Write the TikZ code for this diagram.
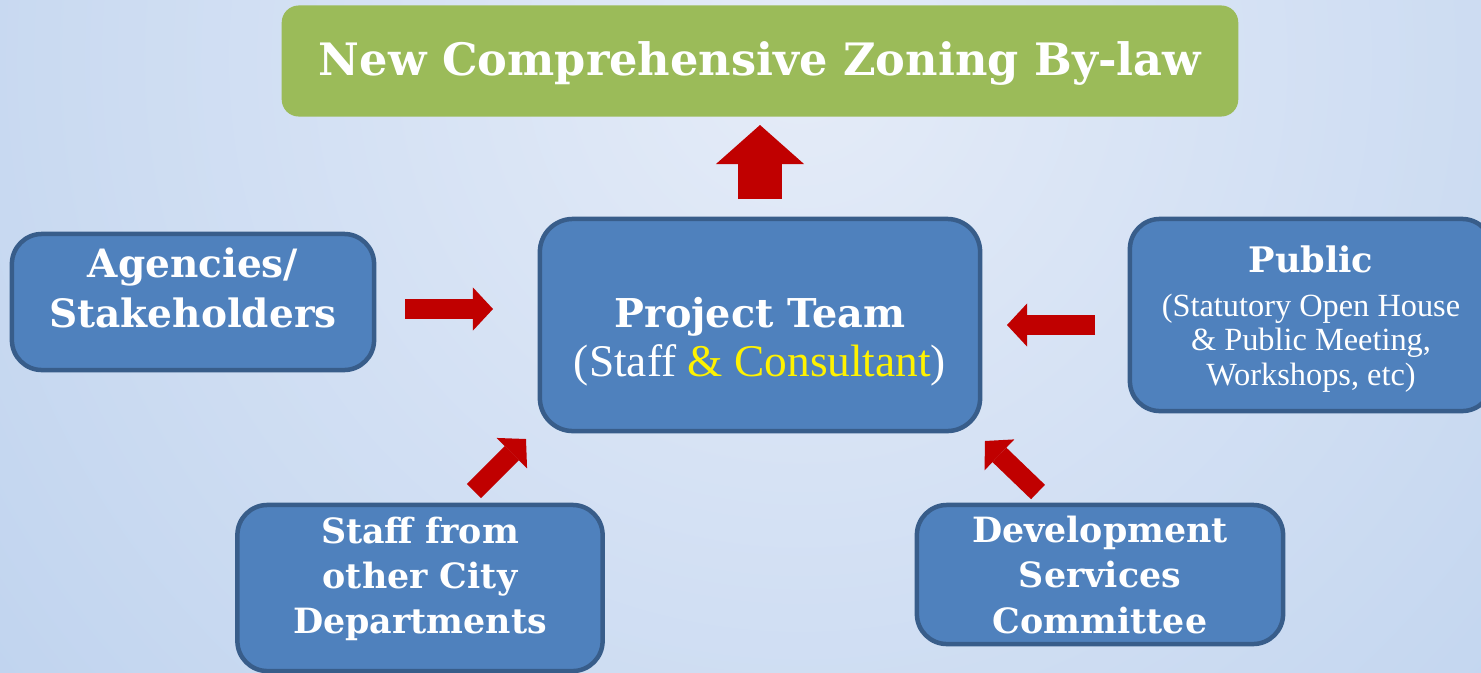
\documentclass[tikz,border=0pt]{standalone}
\usepackage{fontspec}
\setmainfont{DejaVu Serif}
\newfontfamily\plainserif{Liberation Serif}
\usetikzlibrary{arrows.meta}

\begin{document}
\begin{tikzpicture}[x=0.01cm,y=-0.01cm]
\definecolor{bgcore}{RGB}{229,236,248}
\definecolor{bgrim}{RGB}{150,184,228}
\definecolor{boxfill}{RGB}{79,129,189}
\definecolor{boxline}{RGB}{56,93,138}
\definecolor{lawgreen}{RGB}{155,187,89}
\definecolor{flow}{RGB}{192,0,0}
\tikzset{
 stage/.style={fill=boxfill,draw=boxline,line width=0.045cm,rounded corners=0.3cm},
 stagetext/.style={text=white,align=center},
 push/.style={flow,line width=0.2cm,-{Triangle[length=0.2cm,width=0.43cm,line width=0pt]}},
}
\useasboundingbox (0,0) rectangle (1481,672);
\begin{scope}
\clip (0,0) rectangle (1481,672);
\shade[inner color=bgcore,outer color=bgrim] (800,60) circle (22cm);
\end{scope}
% target of the process
\node[fill=lawgreen,rounded corners=0.17cm,inner sep=0pt,minimum width=9.56cm,minimum height=1.11cm,
 text=white,font=\bfseries\fontsize{12.7}{15}\selectfont] (bylaw) at (760,61) {};
\node[text=white,font=\bfseries\fontsize{12.7}{15}\selectfont] (bylawtxt) at (760,63)
 {New Comprehensive Zoning By-law};
% centre box
\node[stage,minimum width=4.40cm,minimum height=2.12cm,rounded corners=0.33cm] (team) at (760,325) {};
\node[stagetext,font=\fontsize{11.3}{14}\selectfont] (teamtxt) at (760,342)
 {\bfseries Project Team\\{\plainserif\fontsize{12.9}{14}\selectfont(Staff \textcolor{yellow}{\& Consultant})}};
% contributors
\node[stage,minimum width=3.62cm,minimum height=1.36cm] (agency) at (193,302) {};
\node[stagetext,font=\bfseries\fontsize{11.1}{14.2}\selectfont] (agencytxt) at (193,288)
 {Agencies/\\Stakeholders};
\node[stage,minimum width=3.62cm,minimum height=1.92cm] (public) at (1311,315) {};
\node[stagetext,font=\fontsize{9.2}{9.7}\selectfont] (publictxt) at (1311,319)
 {{\bfseries\fontsize{10}{11}\selectfont Public}\\[0.1cm]{\plainserif(Statutory Open House}\\
 {\plainserif\& Public Meeting,}\\{\plainserif Workshops, etc)}};
\node[stage,minimum width=3.65cm,minimum height=1.66cm] (staff) at (420,588) {};
\node[stagetext,font=\bfseries\fontsize{9.9}{12.8}\selectfont] (stafftxt) at (420,579)
 {Staff from\\other City\\Departments};
\node[stage,minimum width=3.66cm,minimum height=1.39cm] (dsc) at (1100,574.5) {};
\node[stagetext,font=\bfseries\fontsize{9.9}{12.8}\selectfont] (dsctxt) at (1100,575)
 {Development\\Services\\Committee};
% block arrows
\coordinate (upfoot) at (760,199);
\coordinate (uphead) at (760,125);
\draw[push,line width=0.44cm,-{Triangle[length=0.39cm,width=0.88cm,line width=0pt]}] (upfoot) -- (uphead);
\coordinate (agfoot) at (405,309);
\coordinate (aghead) at (493,309);
\coordinate (pubfoot) at (1095,325);
\coordinate (pubhead) at (1007,325);
\coordinate (stfoot) at (474,491);
\coordinate (sthead) at (526,439);
\coordinate (dscfoot) at (1038,492);
\coordinate (dschead) at (985,441);
\foreach \a/\b in {agfoot/aghead,pubfoot/pubhead,stfoot/sthead,dscfoot/dschead}
 \draw[push] (\a) -- (\b);
\end{tikzpicture}
\end{document}
